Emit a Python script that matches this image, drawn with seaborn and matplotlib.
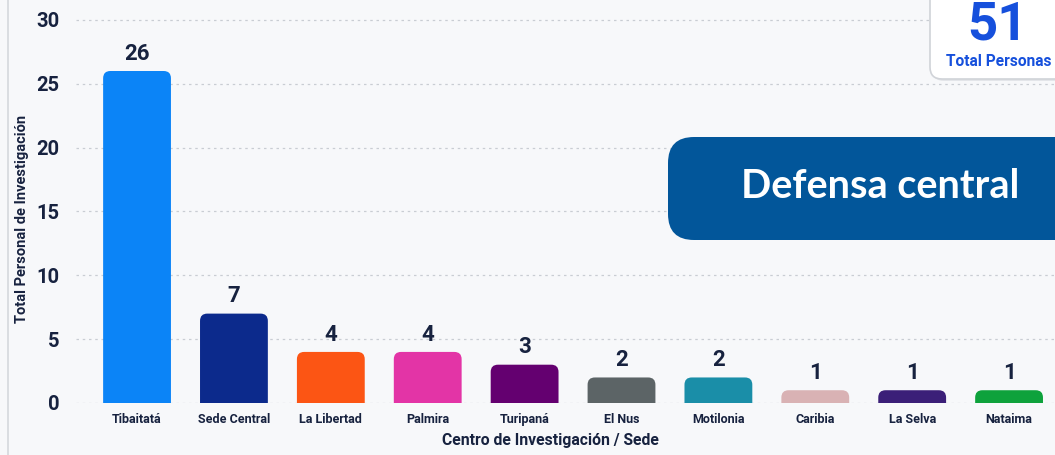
import matplotlib
matplotlib.use("Agg")
import matplotlib.pyplot as plt
from matplotlib.patches import FancyBboxPatch
import seaborn as sns
import pandas as pd

sedes = ['Tibaitatá', 'Sede Central', 'La Libertad', 'Palmira', 'Turipaná',
         'El Nus', 'Motilonia', 'Caribia', 'La Selva', 'Nataima']
personal = [26, 7, 4, 4, 3, 2, 2, 1, 1, 1]
bar_colors = ['#0b84f7', '#0c2a8c', '#fc5514', '#e334a6', '#640070',
              '#5c6466', '#1a8ea8', '#d9b2b4', '#3b1f78', '#0ea23c']
total_personas = 51
titulo = 'Defensa central'

navy = '#17223f'
bg = '#f7f8fa'

sns.set_theme(style='white')
plt.rcParams['font.family'] = ['Roboto', 'DejaVu Sans']

df = pd.DataFrame({'sede': sedes, 'personal': personal})

W, H = 1055, 455
fig = plt.figure(figsize=(W / 100, H / 100), dpi=100)
fig.patch.set_facecolor(bg)

# axes placed in pixels
ax_l, ax_r, ax_b, ax_t = 76, 1055, 455 - 403, 455 - 12
ax = fig.add_axes([ax_l / W, ax_b / H, (ax_r - ax_l) / W, (ax_t - ax_b) / H])
ax.set_facecolor(bg)

sns.barplot(data=df, x='sede', y='personal', hue='sede', palette=bar_colors,
            width=0.7, legend=False, ax=ax, saturation=1)

xl = (-0.63, 9.474)
ax.set_xlim(*xl)
ax.set_ylim(0, 30.62)
ax.set_yticks([0, 5, 10, 15, 20, 25, 30])

# rounded tops: replace rectangles
px_x = (ax_r - ax_l) / (xl[1] - xl[0])
px_y = (ax_t - ax_b) / 30.62
for bar in list(ax.patches):
    x0, w, h = bar.get_x(), bar.get_width(), bar.get_height()
    col = bar.get_facecolor()
    bar.remove()
    rb = FancyBboxPatch((x0, -1), w, h + 1,
                        boxstyle='round,pad=0,rounding_size=0.075',
                        mutation_aspect=px_x / px_y,
                        facecolor=col, edgecolor='none', zorder=3)
    ax.add_patch(rb)
    ax.text(x0 + w / 2, h + 0.5, str(int(h)), ha='center', va='bottom',
            fontsize=16, fontweight='bold', color=navy, zorder=4)

ax.grid(axis='y', linestyle=(0, (2, 3)), color='#c9cdd3', linewidth=0.9, zorder=0)
ax.set_axisbelow(True)
for s in ax.spines.values():
    s.set_visible(False)

ax.tick_params(axis='y', length=0, pad=12, labelsize=14.5, labelcolor=navy)
ax.tick_params(axis='x', length=0, pad=7, labelsize=9, labelcolor=navy)
for lab in ax.get_yticklabels() + ax.get_xticklabels():
    lab.set_fontweight('bold')
ax.set_xlabel('')
ax.set_ylabel('')

fig.text(550 / W, 1 - 441 / H, 'Centro de Investigación / Sede', ha='center',
         va='center', fontsize=11.3, fontweight='bold', color=navy)
fig.text(22 / W, 1 - 219 / H, 'Total Personal de Investigación', ha='center',
         va='center', rotation=90, fontsize=10.5, fontweight='bold', color=navy)

# left card border
fig.add_artist(plt.Line2D([8 / W, 8 / W], [0, 1], color='#d5d8dd', lw=1.2,
                          transform=fig.transFigure))

asp = W / H
# total card
shadow = FancyBboxPatch((932 / W, 1 - 81 / H), 140 / W, 100 / H,
                        boxstyle='round,pad=0,rounding_size=%f' % (12 / W),
                        mutation_aspect=asp, transform=fig.transFigure,
                        facecolor='#e3e5e9', edgecolor='none', zorder=4)
fig.add_artist(shadow)
card = FancyBboxPatch((930 / W, 1 - 79 / H), 140 / W, 100 / H,
                      boxstyle='round,pad=0,rounding_size=%f' % (12 / W),
                      mutation_aspect=asp, transform=fig.transFigure,
                      facecolor='white', edgecolor='#d0d3d8', lw=1.2, zorder=5)
fig.add_artist(card)
fig.text(998 / W, 1 - 25 / H, str(total_personas), ha='center', va='center',
         fontsize=38, fontweight='bold', color='#1650dc', zorder=6)
fig.text(999 / W, 1 - 62 / H, 'Total Personas', ha='center', va='center',
         fontsize=11.2, fontweight='bold', color='#1650dc', zorder=6)

# title banner
banner = FancyBboxPatch((668 / W, 1 - 240 / H), 420 / W, 103 / H,
                        boxstyle='round,pad=0,rounding_size=%f' % (26 / W),
                        mutation_aspect=asp, transform=fig.transFigure,
                        facecolor='#02569a', edgecolor='none', zorder=5)
fig.add_artist(banner)
fig.text(880 / W, 1 - 187 / H, titulo, ha='center', va='center',
         fontsize=28.5, fontweight='bold', color='white', zorder=6,
         family=['Lato', 'DejaVu Sans'])

fig.savefig('out.png', dpi=100, facecolor=bg)
